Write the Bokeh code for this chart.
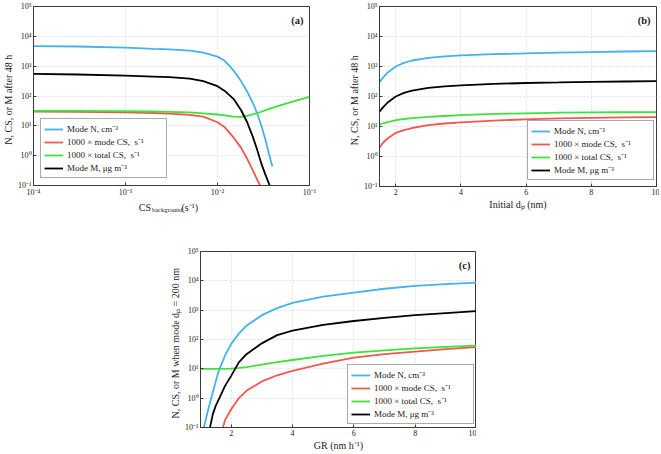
from bokeh.plotting import figure
from bokeh.models import Range1d, FixedTicker, Legend, LegendItem, Label, Spacer
from bokeh.layouts import row, column
from bokeh.core.properties import value
from bokeh.embed import file_html
from bokeh.resources import INLINE

FONT = "Liberation Serif"
C_N = "#43b3ea"
C_MCS = "#f2574c"
C_TCS = "#3fe23a"
C_M = "#000000"

legend_labels = ["Mode N, cm⁻³", "1000 × mode CS,  s⁻¹", "1000 × total CS,  s⁻¹", "Mode M, μg m⁻³"]

y_tick_values = [0.1, 1, 10, 100, 1000, 10000, 100000]
y_tick_labels = ["10⁻¹", "10⁰", "10¹", "10²", "10³", "10⁴", "10⁵"]
a_x_tick_values = [1e-4, 1e-3, 1e-2, 1e-1]
a_x_tick_labels = ["10⁻⁴", "10⁻³", "10⁻²", "10⁻¹"]
b_x_ticks = [2, 4, 6, 8, 10]
c_x_ticks = [2, 4, 6, 8, 10]
a_xlabel_parts = ["CS", "background", "(s⁻¹)"]

# ---- Panel (a): vs background CS ----
a_x_N = [1e-4, 3e-4, 1e-3, 2e-3, 3e-3, 5e-3, 7e-3, 1e-2, 1.2e-2, 1.5e-2, 1.8e-2, 2.1e-2, 2.4e-2, 2.7e-2, 3.0e-2, 3.3e-2, 3.6e-2, 3.95e-2]
a_N = [4680, 4570, 4170, 3800, 3630, 3310, 2820, 2090, 1510, 708, 316, 141, 63, 26.3, 10, 3.7, 1.26, 0.43]
a_x_MCS = [1e-4, 3e-4, 1e-3, 2e-3, 3e-3, 5e-3, 7e-3, 1e-2, 1.2e-2, 1.5e-2, 1.8e-2, 2.1e-2, 2.4e-2, 3.0e-2]
a_MCS = [30.2, 29.5, 28.2, 26.9, 25.7, 23.4, 20.4, 13.2, 8.9, 4.0, 1.86, 0.79, 0.34, 0.08]
a_x_TCS = [1e-4, 3e-4, 1e-3, 2e-3, 3e-3, 5e-3, 7e-3, 1e-2, 1.2e-2, 1.5e-2, 1.8e-2, 2.1e-2, 2.4e-2, 2.8e-2, 3.5e-2, 5e-2, 7e-2, 1e-1]
a_TCS = [31.6, 31.6, 30.9, 30.2, 29.5, 28.2, 26.3, 24.0, 22.4, 20.4, 20.0, 21.4, 24.0, 27.5, 35.5, 50.0, 69.0, 93.0]
a_x_M = [1e-4, 3e-4, 1e-3, 2e-3, 3e-3, 5e-3, 7e-3, 1e-2, 1.2e-2, 1.5e-2, 1.8e-2, 2.1e-2, 2.4e-2, 2.7e-2, 3.0e-2, 3.3e-2, 3.8e-2]
a_M = [550, 525, 479, 447, 427, 380, 316, 214, 148, 79, 34, 13.2, 4.6, 1.58, 0.54, 0.24, 0.08]

# ---- Panel (b): vs initial dp ----
b_x = [1.5, 1.6, 1.75, 2.0, 2.25, 2.5, 3.0, 3.5, 4.0, 5.0, 6.0, 7.0, 8.0, 9.0, 10.0]
b_N = [302, 417, 631, 1000, 1318, 1585, 1950, 2190, 2340, 2570, 2750, 2880, 3020, 3160, 3240]
b_MCS = [1.95, 2.82, 3.98, 6.17, 7.59, 8.91, 11.2, 12.6, 13.8, 15.8, 17.4, 18.6, 19.5, 20.0, 20.4]
b_TCS = [11.7, 12.6, 14.1, 16.2, 17.8, 19.1, 20.9, 22.4, 24.0, 26.3, 27.5, 28.8, 29.5, 29.9, 30.2]
b_M = [30.9, 42.7, 63.1, 100, 132, 158, 195, 219, 234, 263, 282, 295, 309, 316, 324]

# ---- Panel (c): vs GR ----
c_x_N = [1.1, 1.2, 1.3, 1.4, 1.5, 1.6, 1.8, 2.0, 2.25, 2.5, 3.0, 3.5, 4.0, 5.0, 6.0, 7.0, 8.0, 9.0, 10.0]
c_N = [0.09, 0.25, 0.63, 1.58, 3.8, 8.9, 28.2, 70.8, 158, 295, 676, 1175, 1780, 2880, 3980, 5370, 6760, 7760, 8710]
c_x_MCS = [1.72, 1.8, 2.0, 2.25, 2.5, 3.0, 3.5, 4.0, 5.0, 6.0, 7.0, 8.0, 9.0, 10.0]
c_MCS = [0.09, 0.178, 0.417, 1.0, 1.78, 3.72, 6.03, 8.51, 15.1, 24.0, 31.6, 38.9, 46.8, 55.0]
c_x_TCS = [1.0, 1.5, 2.0, 2.25, 2.5, 3.0, 3.5, 4.0, 5.0, 6.0, 7.0, 8.0, 9.0, 10.0]
c_TCS = [10.0, 10.0, 10.2, 10.7, 11.5, 13.8, 17.0, 20.0, 27.5, 35.5, 42.7, 50.0, 56.2, 61.7]
c_x_M = [1.3, 1.4, 1.5, 1.6, 1.8, 2.0, 2.25, 2.5, 3.0, 3.5, 4.0, 5.0, 6.0, 7.0, 8.0, 9.0, 10.0]
c_M = [0.09, 0.28, 0.56, 0.93, 2.63, 5.75, 16.6, 31.6, 74, 141, 200, 316, 427, 550, 676, 794, 933]

AX = "#3a3a3a"
TXT = "#222222"


def style(p, ylabel, xlabel):
    p.outline_line_color = AX
    p.outline_line_width = 1
    p.background_fill_color = "white"
    p.border_fill_color = "white"
    p.grid.grid_line_color = "#e0e0e0"
    p.grid.grid_line_dash = "2 2"
    p.grid.grid_line_width = 1
    for ax in p.axis:
        ax.axis_line_color = AX
        ax.major_tick_in = 3
        ax.major_tick_out = 0
        ax.minor_tick_line_color = None
        ax.major_tick_line_color = AX
        ax.major_label_text_font = FONT
        ax.major_label_text_font_size = "8px"
        ax.major_label_text_color = TXT
        ax.major_label_standoff = 2
        ax.axis_label_text_font = FONT
        ax.axis_label_text_font_size = "10px"
        ax.axis_label_text_font_style = "normal"
        ax.axis_label_text_color = TXT
        ax.axis_label_standoff = 1
    p.yaxis.axis_label = ylabel
    p.xaxis.axis_label = xlabel
    p.yaxis.ticker = FixedTicker(ticks=y_tick_values)
    p.yaxis.major_label_overrides = dict(zip(y_tick_values, y_tick_labels))


def draw(p, series):
    rs = []
    for xs, ys, col in series:
        rs.append(p.line(xs, ys, line_color=col, line_width=1.8))
    return rs


def add_legend(p, renderers, location):
    items = [LegendItem(label=l, renderers=[r]) for l, r in zip(legend_labels, renderers)]
    lg = Legend(items=items, location=location)
    lg.label_text_font = FONT
    lg.label_text_font_size = "9px"
    lg.label_text_color = TXT
    lg.glyph_width = 19
    lg.glyph_height = 8
    lg.label_height = 8
    lg.label_width = 96
    lg.spacing = 0
    lg.padding = 3
    lg.margin = 0
    lg.label_standoff = 4
    lg.border_line_color = "#555555"
    lg.border_line_width = 1
    lg.background_fill_alpha = 1
    p.add_layout(lg)


def panel_tag(p, text, x, y):
    p.add_layout(Label(x=x, y=y, x_offset=-6, y_offset=-8, text=text,
                       text_align="right", text_baseline="top",
                       text_font=FONT, text_font_size="10.5px",
                       text_font_style="bold", text_color=TXT))


# ---- figure (a) ----
pa = figure(width=345, height=199, x_axis_type="log", y_axis_type="log",
            x_range=Range1d(1e-4, 1e-1), y_range=Range1d(0.1, 1e5),
            output_backend="svg", toolbar_location=None,
            min_border_left=33, min_border_right=36, min_border_top=6, min_border_bottom=13)
style(pa, "N,  CS,  or  M after 48 h", "")
pa.xaxis.ticker = FixedTicker(ticks=a_x_tick_values)
pa.xaxis.major_label_overrides = dict(zip(a_x_tick_values, a_x_tick_labels))
ra = draw(pa, [(a_x_N, a_N, C_N), (a_x_MCS, a_MCS, C_MCS), (a_x_TCS, a_TCS, C_TCS), (a_x_M, a_M, C_M)])
add_legend(pa, ra, (7, 7))
panel_tag(pa, "(a)", 1e-1, 1e5)

# x-axis title of (a) with a subscript, drawn as real text in a thin strip below the plot
pl = figure(width=345, height=16, x_range=Range1d(0, 345), y_range=Range1d(16, 0),
            output_backend="svg", toolbar_location=None, min_border=0,
            x_axis_location=None, y_axis_location=None)
pl.outline_line_color = None
pl.grid.visible = False
pl.text(x=[147], y=[8], text=[a_xlabel_parts[0]], text_align="right", text_baseline="alphabetic",
        text_font=value(FONT), text_font_size="10px", text_color=TXT)
pl.text(x=[148], y=[10], text=[a_xlabel_parts[1]], text_align="left", text_baseline="alphabetic",
        text_font=value(FONT), text_font_size="6.5px", text_color=TXT)
pl.text(x=[185], y=[8], text=[a_xlabel_parts[2]], text_align="left", text_baseline="alphabetic",
        text_font=value(FONT), text_font_size="10px", text_color=TXT)

# ---- figure (b) ----
pb = figure(width=314, height=215, y_axis_type="log",
            x_range=Range1d(1.5, 10), y_range=Range1d(0.1, 1e5),
            output_backend="svg", toolbar_location=None,
            min_border_left=34, min_border_right=3, min_border_top=6, min_border_bottom=29)
style(pb, "N,  CS,  or  M after 48 h", "Initial dₚ (nm)")
pb.xaxis.ticker = FixedTicker(ticks=b_x_ticks)
rb = draw(pb, [(b_x, b_N, C_N), (b_x, b_MCS, C_MCS), (b_x, b_TCS, C_TCS), (b_x, b_M, C_M)])
add_legend(pb, rb, (148, 6))
panel_tag(pb, "(b)", 10, 1e5)

# ---- figure (c) ----
pc = figure(width=313, height=238, y_axis_type="log",
            x_range=Range1d(1.0, 10), y_range=Range1d(0.1, 1e5),
            output_backend="svg", toolbar_location=None,
            min_border_left=37, min_border_right=0, min_border_top=36, min_border_bottom=23)
style(pc, "N,  CS,  or  M when mode dₚ = 200 nm", "GR (nm h⁻¹)")
pc.xaxis.ticker = FixedTicker(ticks=c_x_ticks)
rc = draw(pc, [(c_x_N, c_N, C_N), (c_x_MCS, c_MCS, C_MCS), (c_x_TCS, c_TCS, C_TCS), (c_x_M, c_M, C_M)])
add_legend(pc, rc, (147, 3))
panel_tag(pc, "(c)", 10, 1e5)

layout = column(row(column(pa, pl), pb), row(Spacer(width=163, height=238), pc))

open("out.html", "w").write(file_html(layout, INLINE))
